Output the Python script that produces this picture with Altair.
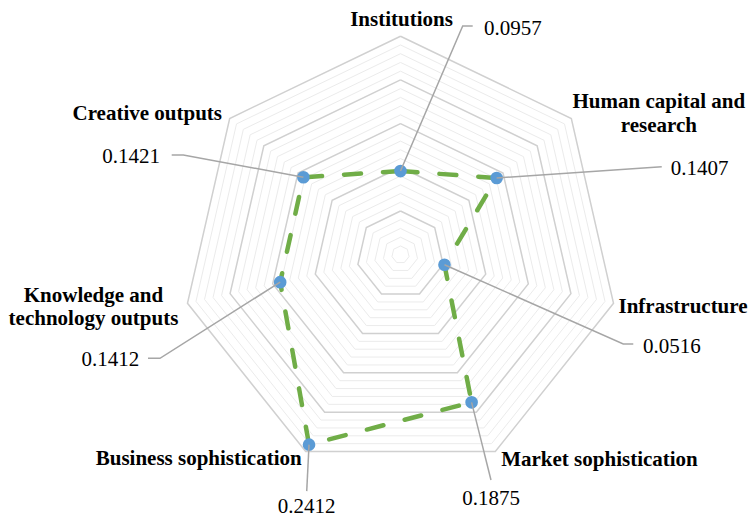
import math
import altair as alt
import pandas as pd

# ---------------- data ----------------
categories = [
    "Institutions",
    "Human capital and\nresearch",
    "Infrastructure",
    "Market sophistication",
    "Business sophistication",
    "Knowledge and\ntechnology outputs",
    "Creative outputs",
]
values = [0.0957, 0.1407, 0.0516, 0.1875, 0.2412, 0.1412, 0.1421]
value_labels = ["0.0957", "0.1407", "0.0516", "0.1875", "0.2412", "0.1412", "0.1421"]
grid_levels = [0.01, 0.02, 0.03, 0.04, 0.05, 0.06, 0.07, 0.08, 0.09, 0.10,
               0.11, 0.12, 0.13, 0.14, 0.15, 0.16, 0.17, 0.18, 0.19, 0.20,
               0.21, 0.22, 0.23, 0.24, 0.25]
major_levels = [0.05, 0.10, 0.15, 0.20, 0.25]
axis_max = 0.25

# ---------------- layout (pixels) ----------------
PX = 874.0            # pixels per unit of radius
W, H = 740, 510       # plot area
CX, CY = 392.5, 246.7 # chart centre inside the plot area

# leader line vertices, as pixel offsets from the data point (dy down)
leader_paths = [
    [(62.2, -145.1), (72.2, -145.1)],
    [(165.1, -11.3)],
    [(178.8, 79.3), (188.8, 79.3)],
    [(19.4, 77.6)],
    [(-2.3, 46.5)],
    [(-120.2, 76.1), (-132.2, 76.1)],
    [(-120.1, -22.3), (-131.7, -22.3)],
]
# value label anchor (pixel offset from the data point) and alignment
value_anchor = [
    ((83.5, -136.1), "left"),
    ((174.1, -3.0), "left"),
    ((198.5, 88.0), "left"),
    ((19.4, 102.6), "center"),
    ((-2.5, 68.4), "center"),
    ((-140.9, 83.8), "right"),
    ((-143.4, -14.6), "right"),
]
# category label anchor (pixel offset from the outer vertex), centred
cat_anchor = [(1.0, -10.0), (87.5, -10.2), (69.5, 10.0), (104.2, 14.4),
              (-107.0, 13.4), (-94.0, -1.6), (-82.4, 1.5)]

n = len(categories)


def polar(r, k):
    a = 2 * math.pi * k / n
    return r * math.sin(a), r * math.cos(a)


# grid rings
grid_rows = []
for lv in grid_levels:
    for k in range(n + 1):
        x, y = polar(lv, k % n)
        grid_rows.append({"level": lv, "k": k, "x": x, "y": y,
                          "major": any(abs(lv - m) < 1e-9 for m in major_levels)})
grid_df = pd.DataFrame(grid_rows)

# series polygon
series_rows = []
for k in range(n + 1):
    x, y = polar(values[k % n], k % n)
    series_rows.append({"k": k, "x": x, "y": y})
series_df = pd.DataFrame(series_rows)

points_df = pd.DataFrame([
    {"cat": categories[k].replace("\n", " "), "value": values[k],
     "x": polar(values[k], k)[0], "y": polar(values[k], k)[1]}
    for k in range(n)
])

# leader lines
leader_rows = []
val_rows = []
for k in range(n):
    px, py = polar(values[k], k)
    leader_rows.append({"id": k, "o": 0, "x": px, "y": py})
    for j, (dx, dy) in enumerate(leader_paths[k]):
        leader_rows.append({"id": k, "o": j + 1, "x": px + dx / PX, "y": py - dy / PX})
    (dx, dy), al = value_anchor[k]
    val_rows.append({"x": px + dx / PX, "y": py - dy / PX,
                     "label": value_labels[k], "align": al})
leader_df = pd.DataFrame(leader_rows)
val_df = pd.DataFrame(val_rows)

cat_rows = []
for k in range(n):
    vx, vy = polar(axis_max, k)
    dx, dy = cat_anchor[k]
    cat_rows.append({"x": vx + dx / PX, "y": vy - dy / PX, "label": categories[k]})
cat_df = pd.DataFrame(cat_rows)

# ---------------- scales ----------------
xs = alt.Scale(domain=[-CX / PX, (W - CX) / PX], nice=False, zero=False)
ys = alt.Scale(domain=[-(H - CY) / PX, CY / PX], nice=False, zero=False)
X = alt.X("x:Q", scale=xs, axis=None)
Y = alt.Y("y:Q", scale=ys, axis=None)

minor = alt.Chart(grid_df).transform_filter("!datum.major").mark_line(
    color="#ebebeb", strokeWidth=1
).encode(x=X, y=Y, detail="level:N", order="k:Q")

major = alt.Chart(grid_df).transform_filter("datum.major").mark_line(
    color="#d0d0d0", strokeWidth=1.5
).encode(x=X, y=Y, detail="level:N", order="k:Q")

series_line = alt.Chart(series_df).mark_line(
    color="#70AD47", strokeWidth=4.5, strokeDash=[17, 22], strokeCap="round"
).encode(x=X, y=Y, order="k:Q")

pts = alt.Chart(points_df).mark_point(
    filled=True, color="#5B9BD5", size=160, opacity=1, shape="circle"
).encode(x=X, y=Y, tooltip=["cat:N", "value:Q"])

leaders = alt.Chart(leader_df).mark_line(
    color="#a6a6a6", strokeWidth=1.5
).encode(x=X, y=Y, detail="id:N", order="o:Q")

FONT = "Liberation Serif"
val_layers = []
for al in ["left", "center", "right"]:
    val_layers.append(
        alt.Chart(val_df).transform_filter(f"datum.align == '{al}'").mark_text(
            font=FONT, fontSize=21, color="#000000", align=al, baseline="alphabetic"
        ).encode(x=X, y=Y, text="label:N")
    )

cat_text = alt.Chart(cat_df).mark_text(
    font=FONT, fontSize=21, fontWeight="bold", color="#000000", align="center",
    baseline="alphabetic", lineBreak="\n", lineHeight=23.5
).encode(x=X, y=Y, text="label:N")

chart = alt.layer(minor, major, series_line, pts, leaders, *val_layers, cat_text).properties(
    width=W, height=H, padding=0,
    autosize=alt.AutoSizeParams(type="none"),
    background="white",
).configure_view(stroke=None)

chart.save("out.html", embed_options={"renderer": "svg", "actions": False})
